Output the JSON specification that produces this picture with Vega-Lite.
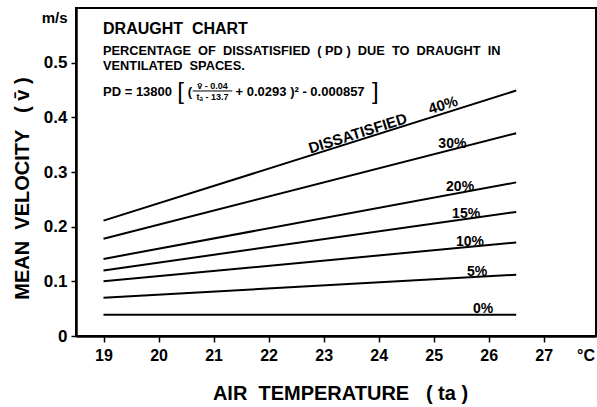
{
  "$schema": "https://vega.github.io/schema/vega-lite/v6.json",
  "width": 520,
  "height": 328,
  "autosize": {"type": "none"},
  "padding": {"left": 76, "top": 8, "right": 1, "bottom": 71},
  "background": "white",
  "config": {
    "font": "Liberation Sans",
    "view": {"stroke": "black", "strokeWidth": 2},
    "text": {"font": "Liberation Sans", "fontWeight": "bold", "color": "black"}
  },
  "datasets": {
    "lines": [
      {"pd": "40%", "ta": 19, "v": 0.211}, {"pd": "40%", "ta": 26.5, "v": 0.449},
      {"pd": "30%", "ta": 19, "v": 0.178}, {"pd": "30%", "ta": 26.5, "v": 0.371},
      {"pd": "20%", "ta": 19, "v": 0.141}, {"pd": "20%", "ta": 26.5, "v": 0.281},
      {"pd": "15%", "ta": 19, "v": 0.120}, {"pd": "15%", "ta": 26.5, "v": 0.227},
      {"pd": "10%", "ta": 19, "v": 0.100}, {"pd": "10%", "ta": 26.5, "v": 0.171},
      {"pd": "5%", "ta": 19, "v": 0.070}, {"pd": "5%", "ta": 26.5, "v": 0.112},
      {"pd": "0%", "ta": 19, "v": 0.039}, {"pd": "0%", "ta": 26.5, "v": 0.039}
    ],
    "labels": [
      {"ta": 25.34, "v": 0.351, "label": "30%"},
      {"ta": 25.48, "v": 0.2726, "label": "20%"},
      {"ta": 25.59, "v": 0.2232, "label": "15%"},
      {"ta": 25.66, "v": 0.172, "label": "10%"},
      {"ta": 25.79, "v": 0.117, "label": "5%"},
      {"ta": 25.9, "v": 0.0494, "label": "0%"}
    ],
    "rotlabels": [
      {"ta": 25.17, "v": 0.4226, "label": "40%"},
      {"ta": 23.62, "v": 0.3708, "label": "DISSATISFIED"}
    ],
    "heading": [
      {"ta": 18.991, "v": 0.5616, "label": "DRAUGHT\u00a0\u00a0CHART"}
    ],
    "sub": [
      {"ta": 18.991, "v": 0.5213, "label": "PERCENTAGE\u00a0\u00a0OF\u00a0\u00a0DISSATISFIED\u00a0\u00a0(\u00a0PD\u00a0)\u00a0\u00a0DUE\u00a0\u00a0TO\u00a0\u00a0DRAUGHT\u00a0\u00a0IN"},
      {"ta": 18.991, "v": 0.4939, "label": "VENTILATED\u00a0\u00a0SPACES."}
    ],
    "formula": [
      {"ta": 18.991, "v": 0.447, "label": "PD = 13800"},
      {"ta": 20.53, "v": 0.447, "label": "("},
      {"ta": 21.4, "v": 0.447, "label": "+ 0.0293 )² - 0.000857"}
    ],
    "brackets": [
      {"ta": 20.34, "v": 0.4465, "label": "["},
      {"ta": 23.88, "v": 0.4465, "label": "]"}
    ],
    "frac": [
      {"ta": 20.98, "v": 0.4568, "label": "v̄ - 0.04"},
      {"ta": 20.98, "v": 0.4376, "label": "tₐ - 13.7"}
    ],
    "fracline": [
      {"ta": 20.62, "ta2": 21.34, "v": 0.4482}
    ]
  },
  "encoding": {
    "x": {
      "field": "ta",
      "type": "quantitative",
      "scale": {"domain": [18.5, 27.95], "nice": false, "zero": false},
      "axis": {
        "values": [19, 20, 21, 22, 23, 24, 25, 26, 27, 27.76],
        "labelExpr": "datum.value > 27.5 ? '°C' : datum.label",
        "title": "AIR\u00a0\u00a0TEMPERATURE\u00a0\u00a0\u00a0(\u00a0ta\u00a0)",
        "titleFontSize": 20,
        "titleFontWeight": "bold",
        "titleColor": "black",
        "titleX": 264,
        "titleY": 57,
        "titleAlign": "center",
        "titleBaseline": "middle",
        "labelFontSize": 16,
        "labelFontWeight": "bold",
        "labelColor": "black",
        "labelPadding": 5,
        "labelFlush": false,
        "labelOverlap": false,
        "tickColor": {"condition": {"test": "datum.value > 27.5", "value": "transparent"}, "value": "black"},
        "tickSize": 6,
        "tickWidth": 1.5,
        "domainColor": "black",
        "domainWidth": 2.5,
        "grid": false
      }
    },
    "y": {
      "field": "v",
      "type": "quantitative",
      "scale": {"domain": [0, 0.6], "nice": false, "zero": true},
      "axis": {
        "values": [0, 0.1, 0.2, 0.3, 0.4, 0.5, 0.5835],
        "labelExpr": "datum.value > 0.55 ? 'm/s' : (datum.value == 0 ? '0' : format(datum.value, '.1f'))",
        "title": "MEAN\u00a0\u00a0VELOCITY\u00a0\u00a0\u00a0(\u00a0v̄\u00a0)",
        "titleFontSize": 20,
        "titleFontWeight": "bold",
        "titleColor": "black",
        "titleAngle": 270,
        "titleX": -54,
        "titleY": 180,
        "titleAlign": "center",
        "titleBaseline": "middle",
        "labelFontSize": {"condition": {"test": "datum.value > 0.55", "value": 15}, "value": 17},
        "labelFontWeight": "bold",
        "labelColor": "black",
        "labelPadding": 4,
        "labelFlush": false,
        "labelOverlap": false,
        "tickColor": {"condition": {"test": "datum.value > 0.55", "value": "transparent"}, "value": "black"},
        "tickSize": 5,
        "tickWidth": 1.5,
        "domainColor": "black",
        "domainWidth": 2.5,
        "grid": false
      }
    }
  },
  "layer": [
    {
      "data": {"name": "lines"},
      "mark": {"type": "line", "color": "black", "strokeWidth": 2},
      "encoding": {"detail": {"field": "pd", "type": "nominal"}}
    },
    {
      "data": {"name": "labels"},
      "mark": {"type": "text", "fontSize": 14, "align": "center", "baseline": "middle"},
      "encoding": {"text": {"field": "label", "type": "nominal"}}
    },
    {
      "data": {"name": "rotlabels"},
      "mark": {"type": "text", "fontSize": 15, "align": "center", "baseline": "middle", "angle": -17.5},
      "encoding": {"text": {"field": "label", "type": "nominal"}}
    },
    {
      "data": {"name": "heading"},
      "mark": {"type": "text", "fontSize": 16, "align": "left", "baseline": "middle"},
      "encoding": {"text": {"field": "label", "type": "nominal"}}
    },
    {
      "data": {"name": "sub"},
      "mark": {"type": "text", "fontSize": 12.8, "align": "left", "baseline": "middle"},
      "encoding": {"text": {"field": "label", "type": "nominal"}}
    },
    {
      "data": {"name": "formula"},
      "mark": {"type": "text", "fontSize": 13, "align": "left", "baseline": "middle"},
      "encoding": {"text": {"field": "label", "type": "nominal"}}
    },
    {
      "data": {"name": "brackets"},
      "mark": {"type": "text", "fontSize": 24, "fontWeight": "normal", "align": "left", "baseline": "middle"},
      "encoding": {"text": {"field": "label", "type": "nominal"}}
    },
    {
      "data": {"name": "frac"},
      "mark": {"type": "text", "fontSize": 9, "align": "center", "baseline": "middle"},
      "encoding": {"text": {"field": "label", "type": "nominal"}}
    },
    {
      "data": {"name": "fracline"},
      "mark": {"type": "rule", "color": "black", "strokeWidth": 1},
      "encoding": {"x2": {"field": "ta2"}}
    }
  ]
}
